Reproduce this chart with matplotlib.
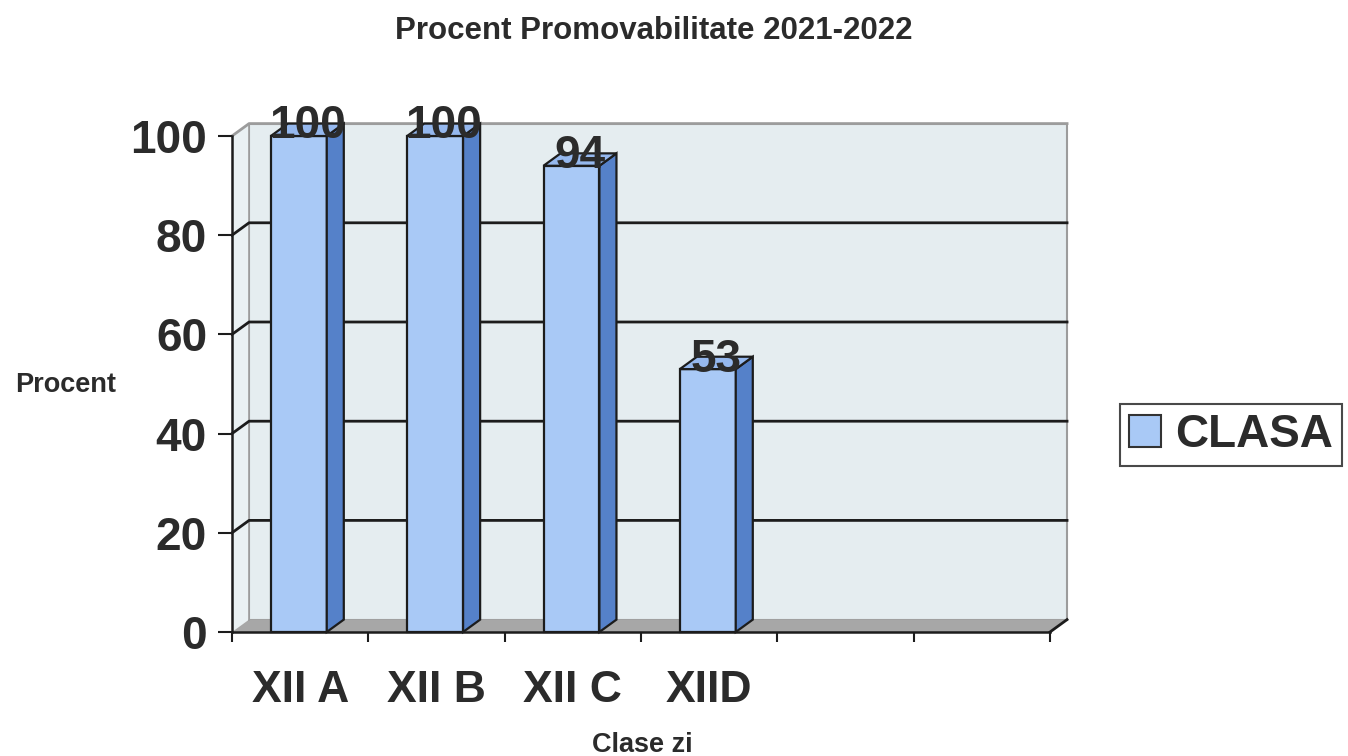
import matplotlib
matplotlib.use('Agg')
import matplotlib.pyplot as plt
from matplotlib.patches import Polygon, Patch

categories = ['XII A', 'XII B', 'XII C', 'XIID']
values = [100, 100, 94, 53]
series_name = 'CLASA'
yticks = [0, 20, 40, 60, 80, 100]
n_slots = 6
title = 'Procent Promovabilitate 2021-2022'
xlabel = 'Clase zi'
ylabel = 'Procent'

plt.rcParams['font.family'] = ['Liberation Sans', 'DejaVu Sans']
TXT = '#2b2b2b'
LINE = '#1c1c1c'
front_c = '#A9C9F6'
side_c = '#5581C9'
top_c = '#95B8EE'
wall_c = '#E5EDF0'
sidewall_c = '#EAF1F3'
floor_c = '#A7A7A7'

W, H = 1348, 756
fig = plt.figure(figsize=(W / 100, H / 100), dpi=100)
fig.patch.set_facecolor('white')

DX = 0.125   # depth offset in category units
DY = 2.5     # depth offset in value units
ymax = 100
x_left_px, x_right_px = 232, 1050
y0_px, y100_px = 632, 136
px_per_cat = (x_right_px - x_left_px) / n_slots
px_per_unit = (y0_px - y100_px) / ymax
ax_w = (n_slots + DX) * px_per_cat
ax_h = (ymax + DY) * px_per_unit
ax = fig.add_axes([x_left_px / W, 1 - y0_px / H, ax_w / W, ax_h / H])
ax.set_xlim(0, n_slots + DX)
ax.set_ylim(0, ymax + DY)
ax.patch.set_visible(False)

# walls and floor
ax.add_patch(Polygon([(DX, DY), (n_slots + DX, DY), (n_slots + DX, ymax + DY), (DX, ymax + DY)],
                     closed=True, fc=wall_c, ec='#9c9c9c', lw=1.5, zorder=0, clip_on=False))
ax.add_patch(Polygon([(0, 0), (DX, DY), (DX, ymax + DY), (0, ymax)],
                     closed=True, fc=sidewall_c, ec='none', zorder=0, clip_on=False))
ax.add_patch(Polygon([(0, 0), (n_slots, 0), (n_slots + DX, DY), (DX, DY)],
                     closed=True, fc=floor_c, ec='none', zorder=1, clip_on=False))
ax.plot([DX, DX], [DY, ymax + DY], color='#9c9c9c', lw=1.2, zorder=1, clip_on=False)

# gridlines on side wall and back wall
for t in yticks[1:]:
    col = LINE if t < ymax else '#9c9c9c'
    ax.plot([0, DX, n_slots + DX], [t, t + DY, t + DY], color=col, lw=2, zorder=1, clip_on=False)
ax.plot([n_slots, n_slots + DX], [0, DY], color=LINE, lw=2, zorder=2, clip_on=False)

# bars
bar_w = 0.41
bar_off = 0.285
lefts = [i + bar_off for i in range(len(values))]
ax.bar(lefts, values, width=bar_w, align='edge', color=front_c, edgecolor=LINE,
       linewidth=1.6, zorder=3, clip_on=False)
for x0, v in zip(lefts, values):
    x1 = x0 + bar_w
    ax.add_patch(Polygon([(x1, 0), (x1 + DX, DY), (x1 + DX, v + DY), (x1, v)], closed=True,
                         fc=side_c, ec=LINE, lw=1.6, zorder=3, clip_on=False))
    ax.add_patch(Polygon([(x0, v), (x1, v), (x1 + DX, v + DY), (x0 + DX, v + DY)], closed=True,
                         fc=top_c, ec=LINE, lw=1.6, zorder=3, clip_on=False))
    ax.text(x0 + bar_w / 2 + DX / 2, v - 0.5, str(v), ha='center', va='baseline',
            fontsize=33, fontweight='bold', color=TXT, zorder=5)

# spines and ticks
for s in ['top', 'right']:
    ax.spines[s].set_visible(False)
ax.spines['left'].set_bounds(0, ymax)
ax.spines['bottom'].set_bounds(0, n_slots)
for s in ['left', 'bottom']:
    ax.spines[s].set_linewidth(1.8)
    ax.spines[s].set_color(LINE)
    ax.spines[s].set_zorder(4)

ax.set_yticks(yticks, labels=[str(t) for t in yticks], fontsize=33, fontweight='bold', color=TXT)
ax.tick_params(axis='y', direction='out', length=10, width=1.5, pad=8, color=LINE)
ax.set_xticks(range(n_slots + 1), labels=[''] * (n_slots + 1))
ax.tick_params(axis='x', which='major', direction='out', length=7, width=1.5, color=LINE)
ax.set_xticks([i + 0.5 for i in range(len(categories))], labels=categories, minor=True,
              fontsize=32, fontweight='bold', color=TXT)
ax.tick_params(axis='x', which='minor', length=0, pad=27)

# texts
fig.text(654 / W, 1 - 31 / H, title, ha='center', va='center', fontsize=22.5,
         fontweight='bold', color=TXT)
fig.text(15 / W, 1 - 385 / H, ylabel, ha='left', va='center', fontsize=19.5,
         fontweight='bold', color=TXT)
fig.text(642 / W, 1 - 745 / H, xlabel, ha='center', va='center', fontsize=19.5,
         fontweight='bold', color=TXT)

# legend
handle = Patch(facecolor=front_c, edgecolor='#333333', linewidth=1.5)
leg = fig.legend([handle], [series_name], loc='center left', bbox_to_anchor=(1120 / W, 1 - 435 / H),
                 prop=dict(weight='bold', size=33), frameon=True, fancybox=False,
                 handlelength=0.7, handleheight=0.7, handletextpad=0.3, borderpad=0.2,
                 borderaxespad=0)
leg.get_frame().set_edgecolor(LINE)
leg.get_frame().set_linewidth(1.5)
for t in leg.get_texts():
    t.set_color(TXT)

fig.savefig('out.png', dpi=100, facecolor='white')
